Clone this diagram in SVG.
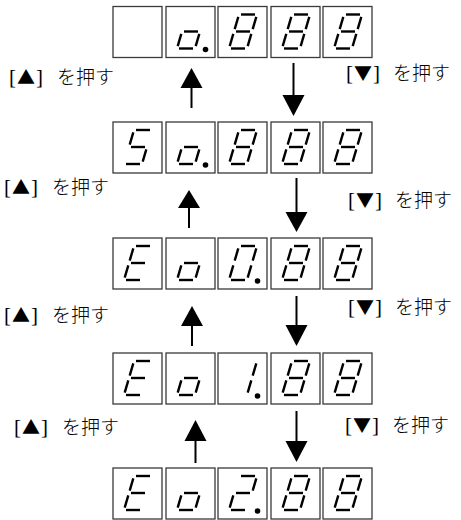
<svg xmlns="http://www.w3.org/2000/svg" xmlns:xlink="http://www.w3.org/1999/xlink" width="461" height="520" viewBox="0 0 461 520">
<style>
.box{fill:#fff;stroke:#3a3a3a;stroke-width:1.3}
.seg{stroke:#000;stroke-width:2.4;fill:none}
.shaft{stroke:#000;stroke-width:2;fill:none}
.head{fill:#000}
.lbl{font-family:"Liberation Serif","Noto Sans CJK JP",serif;font-size:21px;fill:#000}
.tri{font-family:"Noto Sans CJK JP",sans-serif;font-size:18px}
.jp{font-family:"Noto Sans CJK JP",sans-serif;font-size:19px;font-weight:300}
</style>
<defs>
<path id="sa" class="seg" d="M23,8H37"/>
<path id="sb" class="seg" d="M38.3,10.4L34.7,22.6"/>
<path id="sc" class="seg" d="M33.3,27.4L29.7,39.6"/>
<path id="sd" class="seg" d="M13,42H27"/>
<path id="se" class="seg" d="M15.3,27.4L11.7,39.6"/>
<path id="sf" class="seg" d="M20.3,10.4L16.7,22.6"/>
<path id="sg" class="seg" d="M18,25H32"/>
<circle id="dp" cx="39.5" cy="43" r="2.8" fill="#000"/>
<g id="d8"><use href="#sa"/><use href="#sb"/><use href="#sc"/><use href="#sd"/><use href="#se"/><use href="#sf"/><use href="#sg"/></g>
<g id="d0"><use href="#sa"/><use href="#sb"/><use href="#sc"/><use href="#sd"/><use href="#se"/><use href="#sf"/></g>
<g id="do"><use href="#sc"/><use href="#sd"/><use href="#se"/><use href="#sg"/></g>
<g id="d5"><use href="#sa"/><use href="#sf"/><use href="#sg"/><use href="#sc"/><use href="#sd"/></g>
<g id="dE"><use href="#sa"/><use href="#sf"/><use href="#sg"/><use href="#se"/><use href="#sd"/></g>
<g id="d1"><use href="#sb"/><use href="#sc"/></g>
<g id="d2"><use href="#sa"/><use href="#sb"/><use href="#sg"/><use href="#se"/><use href="#sd"/></g>
<g id="cells">
<rect class="box" x="113" y="0" width="49" height="51"/>
<rect class="box" x="166" y="0" width="49" height="51"/>
<rect class="box" x="218" y="0" width="49" height="51"/>
<rect class="box" x="271" y="0" width="49" height="51"/>
<rect class="box" x="323" y="0" width="49" height="51"/>
</g>
</defs>

<g id="row1" transform="translate(0,6.5)">
<use href="#cells"/>
<use href="#do" x="166"/><use href="#dp" x="166"/>
<use href="#d8" x="218"/><use href="#d8" x="271"/><use href="#d8" x="323"/>
</g>
<g id="row2" transform="translate(0,122)">
<use href="#cells"/>
<use href="#d5" x="113"/>
<use href="#do" x="166"/><use href="#dp" x="166"/>
<use href="#d8" x="218"/><use href="#d8" x="271"/><use href="#d8" x="323"/>
</g>
<g id="row3" transform="translate(0,238)">
<use href="#cells"/>
<use href="#dE" x="113"/>
<use href="#do" x="166"/>
<use href="#d0" x="218"/><use href="#dp" x="218"/>
<use href="#d8" x="271"/><use href="#d8" x="323"/>
</g>
<g id="row4" transform="translate(0,353)">
<use href="#cells"/>
<use href="#dE" x="113"/>
<use href="#do" x="166"/>
<use href="#d1" x="218"/><use href="#dp" x="218"/>
<use href="#d8" x="271"/><use href="#d8" x="323"/>
</g>
<g id="row5" transform="translate(0,468)">
<use href="#cells"/>
<use href="#dE" x="113"/>
<use href="#do" x="166"/>
<use href="#d2" x="218"/><use href="#dp" x="218"/>
<use href="#d8" x="271"/><use href="#d8" x="323"/>
</g>

<g id="connectors">
<path class="shaft" d="M191.5,87V108"/><path class="head" d="M191.5,68L180.5,88H202.5Z"/>
<path class="shaft" d="M293.5,63V96"/><path class="head" d="M293.5,116L282.5,95H304.5Z"/>
<path class="shaft" d="M189,207V228"/><path class="head" d="M189,190L178,208H200Z"/>
<path class="shaft" d="M296.5,178V213"/><path class="head" d="M296.5,232L285.5,212H307.5Z"/>
<path class="shaft" d="M192,325V346"/><path class="head" d="M192,306L181,326H203Z"/>
<path class="shaft" d="M296.5,296V326"/><path class="head" d="M296.5,346L285.5,325H307.5Z"/>
<path class="shaft" d="M195.5,440V463"/><path class="head" d="M195.5,420L184.5,441H206.5Z"/>
<path class="shaft" d="M296.5,411V442"/><path class="head" d="M296.5,462L285.5,441H307.5Z"/>
</g>

<g id="label-up1"><text class="lbl" x="9" y="84">[<tspan class="tri" x="17">▲</tspan><tspan x="36">]</tspan><tspan class="jp" x="57">を押す</tspan></text></g>
<g id="label-down1"><text class="lbl" x="346" y="80">[<tspan class="tri" x="354">▼</tspan><tspan x="373">]</tspan><tspan class="jp" x="393">を押す</tspan></text></g>
<g id="label-up2"><text class="lbl" x="4" y="194">[<tspan class="tri" x="12">▲</tspan><tspan x="31">]</tspan><tspan class="jp" x="52">を押す</tspan></text></g>
<g id="label-down2"><text class="lbl" x="348" y="207">[<tspan class="tri" x="356">▼</tspan><tspan x="375">]</tspan><tspan class="jp" x="395">を押す</tspan></text></g>
<g id="label-up3"><text class="lbl" x="4" y="322">[<tspan class="tri" x="12">▲</tspan><tspan x="31">]</tspan><tspan class="jp" x="52">を押す</tspan></text></g>
<g id="label-down3"><text class="lbl" x="348" y="314">[<tspan class="tri" x="356">▼</tspan><tspan x="375">]</tspan><tspan class="jp" x="395">を押す</tspan></text></g>
<g id="label-up4"><text class="lbl" x="14" y="434">[<tspan class="tri" x="22">▲</tspan><tspan x="41">]</tspan><tspan class="jp" x="62">を押す</tspan></text></g>
<g id="label-down4"><text class="lbl" x="345" y="432">[<tspan class="tri" x="353">▼</tspan><tspan x="372">]</tspan><tspan class="jp" x="392">を押す</tspan></text></g>
</svg>
